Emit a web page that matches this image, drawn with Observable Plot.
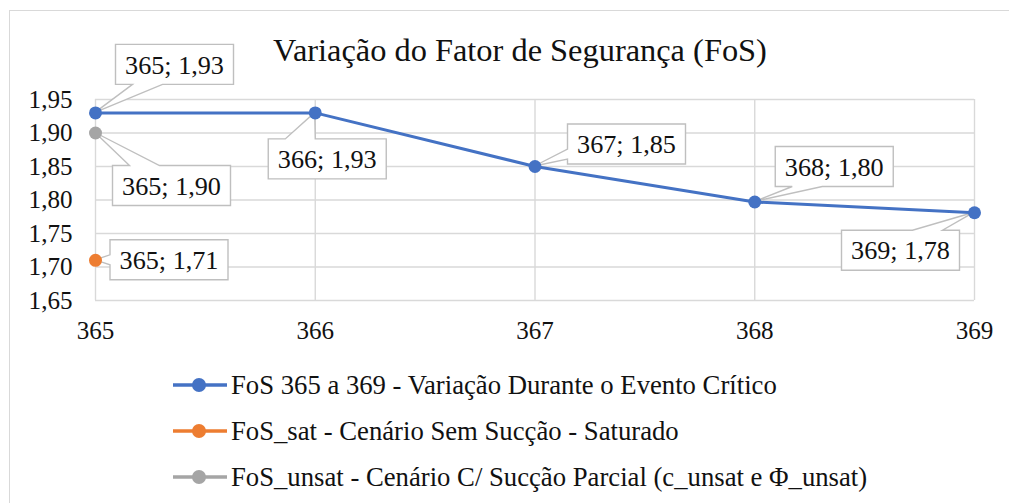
<!DOCTYPE html>
<html>
<head>
<meta charset="utf-8">
<script src="https://cdn.jsdelivr.net/npm/d3@7"></script>
<script src="https://cdn.jsdelivr.net/npm/@observablehq/plot@0.6"></script>
<style>
  html, body { margin: 0; padding: 0; background: #fff; overflow: hidden; width: 1009px; height: 503px; }
  body { font-family: "Liberation Serif", "Times New Roman", serif; color: #111; position: relative; }
  #frame { position: absolute; left: 9px; top: 10px; width: 1100px; height: 600px; border: 1.5px solid #d9d9d9; pointer-events: none; }
  #title { position: absolute; left: 0; top: 0; height: 80px; box-sizing: border-box; padding-top: 31px; padding-left: 31px; width: 1009px; text-align: center; line-height: 38px; z-index: 2; white-space: nowrap; }
  #chart svg { display: block; }
  #legend { padding-top: 12px; }
  .row { height: 46px; display: flex; align-items: center; padding-left: 172px; white-space: nowrap; }
  .row svg { margin-right: 3px; flex: none; }
</style>
</head>
<body>
<div id="frame"></div>
<div id="title"></div>
<div id="chart"></div>
<div id="legend"></div>
<script>
// ---- data ----
const titleText = "Variação do Fator de Segurança (FoS)";
const days = [365, 366, 367, 368, 369];
const fosCritical = [1.93, 1.93, 1.85, 1.797, 1.781];
const satDays = [365];
const fosSat = [1.71];
const unsatDays = [365];
const fosUnsat = [1.90];
const xTicks = [365, 366, 367, 368, 369];
const yTicks = [1.65, 1.70, 1.75, 1.80, 1.85, 1.90, 1.95];
const seriesNames = [
  "FoS 365 a 369 - Variação Durante o Evento Crítico",
  "FoS_sat - Cenário Sem Sucção - Saturado",
  "FoS_unsat - Cenário C/ Sucção Parcial (c_unsat e Φ_unsat)"
];
const seriesColors = ["#4472C4", "#ED7D31", "#A5A5A5"];

// ---- font sizing (style): fit text widths to the reference ----
const FONT = "'Liberation Serif', 'Times New Roman', serif";
const ctx = document.createElement("canvas").getContext("2d");
function fitSize(text, targetWidth) {
  ctx.font = `100px ${FONT}`;
  return +(100 * targetWidth / ctx.measureText(text).width).toFixed(1);
}
const titleSize = fitSize(titleText, 494);
const legendSize = fitSize(seriesNames[0], 546);
const labelSize = fitSize("365; 1,93", 99);
const tickSize = fitSize("1,80", 44);

// ---- tables built from the arrays ----
const critical = days.map((d, i) => ({day: d, fos: fosCritical[i]}));
const sat = satDays.map((d, i) => ({day: d, fos: fosSat[i]}));
const unsat = unsatDays.map((d, i) => ({day: d, fos: fosUnsat[i]}));

// label placement (style): box centre offset from point, side of the callout pointer
const placeCritical = [
  {dx: 79.5, dy: -48, side: "bottom"},
  {dx: 12.5, dy: 46.5, side: "top"},
  {dx: 92, dy: -22, side: "left"},
  {dx: 80, dy: -35, side: "bottom"},
  {dx: -73.5, dy: 38, side: "top"}
];
const placeSat = [{dx: 74, dy: 0, side: "left"}];
const placeUnsat = [{dx: 76.5, dy: 53, side: "top"}];

const commaFmt = (v, p) => d3.format("." + p + "f")(v).replace(".", ",");

const labels = [
  ...critical.map((d, i) => ({...d, ...placeCritical[i]})),
  ...unsat.map((d, i) => ({...d, ...placeUnsat[i]})),
  ...sat.map((d, i) => ({...d, ...placeSat[i]}))
];

const BW = 118, BH = 40;
function calloutPath(L, T, R, B, px, py, side) {
  const cx = (L + R) / 2;
  if (side === "top" || side === "bottom") {
    let a, b;
    if (px < cx) { a = L + 17; b = L + 47; } else { a = R - 47; b = R - 17; }
    if (side === "top")
      return `M${L},${T}L${a},${T}L${px},${py}L${b},${T}L${R},${T}L${R},${B}L${L},${B}Z`;
    return `M${L},${T}L${R},${T}L${R},${B}L${b},${B}L${px},${py}L${a},${B}L${L},${B}Z`;
  } else {
    const c = Math.max(T + 10, Math.min(B - 10, py));
    const a = c - 5, b = c + 5;
    if (side === "left")
      return `M${L},${T}L${R},${T}L${R},${B}L${L},${B}L${L},${b}L${px},${py}L${L},${a}Z`;
    return `M${L},${T}L${R},${T}L${R},${a}L${px},${py}L${R},${b}L${R},${B}L${L},${B}Z`;
  }
}

function callouts(index, scales) {
  const g = d3.create("svg:g");
  for (const l of labels) {
    const px = scales.x(l.day), py = scales.y(l.fos);
    const cx = px + l.dx, cy = py + l.dy;
    const L = cx - BW / 2, R = cx + BW / 2, T = cy - BH / 2, B = cy + BH / 2;
    g.append("path")
      .attr("d", calloutPath(L, T, R, B, px, py, l.side))
      .attr("fill", "#fff")
      .attr("stroke", "#bfbfbf")
      .attr("stroke-width", 1.4);
    g.append("text")
      .attr("x", cx).attr("y", cy).attr("dy", "0.35em")
      .attr("text-anchor", "middle")
      .style("font-size", labelSize + "px")
      .attr("fill", "#111")
      .text(`${l.day}; ${commaFmt(l.fos, 2)}`);
  }
  return g.node();
}

const plot = Plot.plot({
  width: 1009,
  height: 350,
  marginLeft: 95,
  marginRight: 35,
  marginTop: 99,
  marginBottom: 50,
  style: {fontFamily: FONT, fontSize: tickSize + "px", color: "#111", background: "transparent"},
  x: {domain: [365, 369], ticks: xTicks},
  y: {domain: [1.65, 1.95], ticks: yTicks},
  marks: [
    Plot.gridX(xTicks, {stroke: "#d9d9d9", strokeOpacity: 1, strokeWidth: 1.4}),
    Plot.gridY(yTicks, {stroke: "#d9d9d9", strokeOpacity: 1, strokeWidth: 1.4}),
    Plot.axisX(xTicks, {tickSize: 0, tickPadding: 21, fontSize: tickSize, tickFormat: d => String(d), label: null}),
    Plot.axisY(yTicks, {tickSize: 0, tickPadding: 23, fontSize: tickSize, tickFormat: d => commaFmt(d, 2), label: null}),
    callouts,
    Plot.line(critical, {x: "day", y: "fos", stroke: seriesColors[0], strokeWidth: 3}),
    Plot.dot(critical, {x: "day", y: "fos", fill: seriesColors[0], r: 6.5}),
    Plot.dot(unsat, {x: "day", y: "fos", fill: seriesColors[2], r: 6.5}),
    Plot.dot(sat, {x: "day", y: "fos", fill: seriesColors[1], r: 6.5})
  ]
});
document.getElementById("chart").append(plot);

// ---- title ----
const title = document.getElementById("title");
title.textContent = titleText;
title.style.fontSize = titleSize + "px";

// ---- legend ----
const legend = d3.select("#legend");
seriesNames.forEach((name, i) => {
  const row = legend.append("div").attr("class", "row").style("font-size", legendSize + "px");
  const s = row.append("svg").attr("width", 56).attr("height", 20);
  s.append("line").attr("x1", 1).attr("x2", 55).attr("y1", 10).attr("y2", 10)
    .attr("stroke", seriesColors[i]).attr("stroke-width", 3.5);
  s.append("circle").attr("cx", 27).attr("cy", 10).attr("r", 7).attr("fill", seriesColors[i]);
  row.append("span").text(name);
});
</script>
</body>
</html>
